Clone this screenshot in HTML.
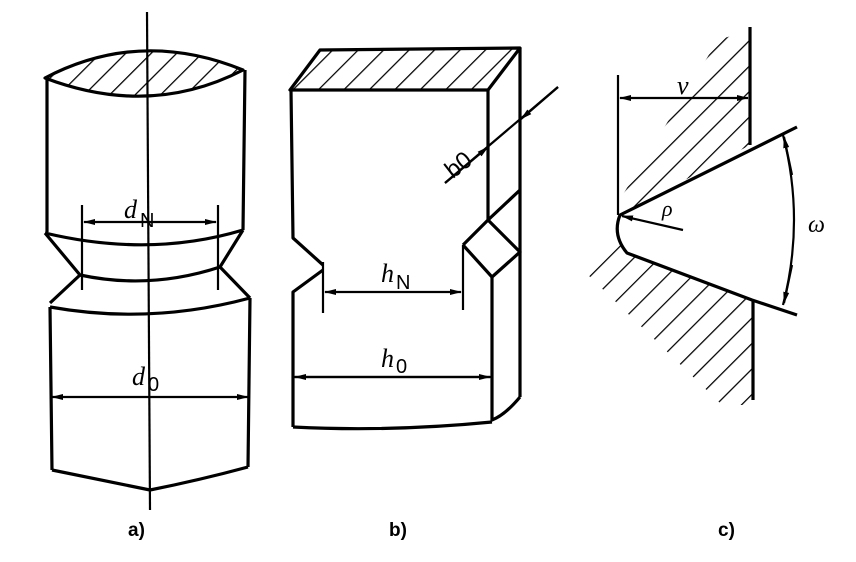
<!DOCTYPE html>
<html><head><meta charset="utf-8"><style>
html,body{margin:0;padding:0;background:#fff}
svg{display:block}
text{font-family:"Liberation Serif",serif;font-style:italic;fill:#000}
.lb{font-family:"Liberation Sans",sans-serif;font-style:normal;font-size:19px;font-weight:bold}
.sub{font-style:normal;font-family:"Liberation Sans",sans-serif;font-size:20px}
</style></head><body>
<svg width="856" height="562" viewBox="0 0 856 562" xmlns="http://www.w3.org/2000/svg">
<defs>
<pattern id="h" width="18" height="18" patternUnits="userSpaceOnUse" patternTransform="rotate(45)">
<line x1="0" y1="0" x2="0" y2="18" stroke="#000" stroke-width="2.5"/>
</pattern>
<marker id="ar" markerWidth="12" markerHeight="8" refX="11" refY="4" orient="auto" markerUnits="userSpaceOnUse">
<path d="M0,1 L12,4 L0,7 Z" fill="#000"/></marker>
</defs>
<g fill="none" stroke="#000" stroke-width="3.2" stroke-linejoin="round">
<!-- a -->
<path d="M45,78 Q140,28 243,70 Q150,118 45,78 Z" fill="url(#h)"/>
<path d="M47,78 L47,232 M245,70 L243,230"/>
<path d="M45,233 Q150,258 243,230 M80,275 Q150,290 220,267"/>
<path d="M45,233 L80,275 L50,303 M243,230 L220,267 L250,298"/>
<path d="M50,307 Q150,325 250,298"/>
<path d="M50,307 L52,470 M250,298 L248,467"/>
<path d="M52,470 Q100,480 150,490 Q200,480 248,467"/>
</g>
<g stroke="#000" stroke-width="2.2" fill="none">
<path d="M147,12 L150,510"/>
<path d="M82,205 L82,290 M218,205 L218,290"/>
<line x1="150" y1="222" x2="84" y2="222" marker-end="url(#ar)"/>
<line x1="150" y1="222" x2="216" y2="222" marker-end="url(#ar)"/>
<line x1="150" y1="397" x2="52" y2="397" marker-end="url(#ar)"/>
<line x1="150" y1="397" x2="248" y2="397" marker-end="url(#ar)"/>
</g>
<text x="124" y="218" font-size="26">d</text><text x="140" y="227" class="sub">N</text>
<text x="132" y="385" font-size="26">d</text><text x="148" y="391" class="sub">0</text>
<text class="lb" x="128" y="536">a)</text>
<!-- b -->
<g fill="none" stroke="#000" stroke-width="3.2" stroke-linejoin="round">
<path d="M290,90 L488,90 L520,48 L320,50 Z" fill="url(#h)"/>
<path d="M291,90 L293,238 L323,265 M323,270 L293,292 L293,427"/>
<path d="M488,90 L488,220 L463,245 M488,220 L520,190 M520,48 L520,397"/>
<path d="M488,220 L520,252 L492,277 L463,245"/>
<path d="M492,277 L492,420 Q505,415 520,397"/>
<path d="M293,427 Q390,432 492,422"/>
</g>
<g stroke="#000" stroke-width="2.2" fill="none">
<path d="M323,262 L323,313 M463,245 L463,310"/>
<line x1="393" y1="292" x2="325" y2="292" marker-end="url(#ar)"/>
<line x1="393" y1="292" x2="461" y2="292" marker-end="url(#ar)"/>
<path d="M293,377 L492,377"/>
<line x1="393" y1="377" x2="295" y2="377" marker-end="url(#ar)"/>
<line x1="393" y1="377" x2="490" y2="377" marker-end="url(#ar)"/>
<line x1="445" y1="183" x2="558" y2="87"/>
<line x1="445" y1="183" x2="488" y2="147" marker-end="url(#ar)"/>
<line x1="558" y1="87" x2="521" y2="119" marker-end="url(#ar)"/>
</g>
<text x="381" y="282" font-size="26">h</text><text x="396" y="289" class="sub">N</text>
<text x="381" y="367" font-size="26">h</text><text x="396" y="373" class="sub">0</text>
<text x="442" y="172" font-size="24" style="font-style:normal;font-family:'Liberation Sans',sans-serif" transform="rotate(-38 458 160)">b0</text>
<text class="lb" x="389" y="536">b)</text>
<!-- c -->
<path d="M590,248 L620,215 L750,145 L750,30 L718,40 Z" fill="url(#h)"/>
<path d="M585,272 L615,233 L627,253 L752,300 L752,405 L722,405 Z" fill="url(#h)"/>
<g fill="none" stroke="#000" stroke-width="3.2" stroke-linejoin="round">
<path d="M750,27 L750,145"/>
<path d="M797,127 L620,215 Q612,235 627,253 L752,300 L797,315"/>
<path d="M753,300 L753,400"/>
</g>
<g stroke="#000" stroke-width="2.2" fill="none">
<path d="M618,75 L618,215"/>
<line x1="684" y1="98" x2="620" y2="98" marker-end="url(#ar)"/>
<line x1="684" y1="98" x2="748" y2="98" marker-end="url(#ar)"/>
<path d="M783,135 Q805,220 783,305"/>
<line x1="792" y1="175" x2="784" y2="137" marker-end="url(#ar)"/>
<line x1="792" y1="265" x2="784" y2="303" marker-end="url(#ar)"/>
<line x1="683" y1="230" x2="622" y2="216" marker-end="url(#ar)"/>
</g>
<text x="677" y="94" font-size="26">v</text>
<text x="662" y="216" font-size="22">ρ</text>
<text x="808" y="232" font-size="24">ω</text>
<text class="lb" x="718" y="536">c)</text>
</svg>
</body></html>
